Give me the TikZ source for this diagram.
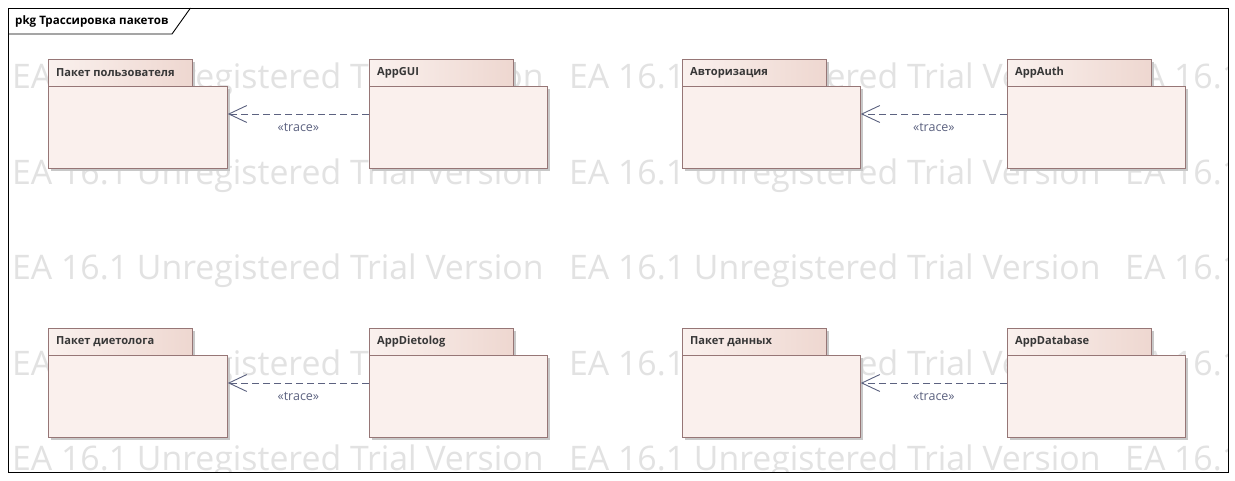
\documentclass[tikz,border=0pt]{standalone}
\usepackage{fontspec}
\setmainfont{Open Sans}
\newfontfamily\wmfont{Open Sans}
\usetikzlibrary{arrows.meta}
\definecolor{pkgline}{RGB}{150,118,118}
\definecolor{pkgbody}{RGB}{250,240,237}
\definecolor{tabL}{RGB}{250,241,238}
\definecolor{tabR}{RGB}{238,215,208}
\definecolor{shadowc}{RGB}{200,200,200}
\definecolor{wmc}{RGB}{226,226,226}
\definecolor{tracec}{RGB}{92,98,128}
\definecolor{labelc}{RGB}{55,55,55}
\tikzset{
  pkgtab/.style={draw=pkgline, left color=tabL, right color=tabR, anchor=north west, inner sep=0pt, line width=0.8pt, minimum height=27pt},
  pkgbodybox/.style={draw=pkgline, fill=pkgbody, anchor=north west, inner sep=0pt, line width=0.8pt, minimum height=82pt},
  pkglabel/.style={anchor=west, font=\bfseries\fontsize{11.1}{13}\selectfont, text=labelc, inner sep=0pt},
  tracearrow/.style={draw=tracec, dash pattern=on 7pt off 4pt, line width=0.9pt, -{Straight Barb[length=18pt,width=17pt,line width=0.9pt]}},
  tracelabel/.style={font=\fontsize{12.5}{14}\selectfont, text=tracec, inner sep=0pt},
  wmtext/.style={anchor=base west, font=\wmfont\fontsize{33.8}{40}\selectfont, text=wmc, inner sep=0pt},
  framebox/.style={draw=black, line width=0.9pt},
}
\newcommand\umlpkg[6]{% name, xl, xtab, xr, ytop, label
  \fill[shadowc] (#2+3,#5+3) rectangle (#3+2.5,#5+27);
  \fill[shadowc] (#2+3,#5+30) rectangle (#4+2.5,#5+111.5);
  \node[pkgtab, minimum width={(#3-#2)*1pt}] (#1tab) at (#2,#5) {};
  \node[pkgbodybox, minimum width={(#4-#2)*1pt}] (#1) at (#2,#5+27) {};
  \node[pkglabel] (#1lbl) at ([xshift=8pt]#1tab.west) {#6};
}
\begin{document}
\begin{tikzpicture}[x=1pt,y=-1pt]
\useasboundingbox (0,0) rectangle (1235,480);
\fill[white] (0,0) rectangle (1235,480);
% watermark
\begin{scope}
\clip (8,8) rectangle (1228,472);
\foreach \yy in {88,184,279,375,470} {
  \foreach \xx in {12,569,1125} {
    \node[wmtext] at (\xx,\yy) {EA 16.1 Unregistered Trial Version};
  }
}
\end{scope}
% frame
\node[framebox, anchor=north west, minimum width=1220pt, minimum height=464pt, inner sep=0pt] (frame) at (8,8) {};
\draw[framebox] (8,34) -- (172,34) -- (190.5,8);
\node[anchor=west, font=\bfseries\fontsize{11.6}{14}\selectfont, inner sep=0pt] (title) at (15,21) {pkg Трассировка пакетов};
% packages
\umlpkg{user}{48}{192}{227}{59}{Пакет пользователя}
\umlpkg{gui}{369}{513}{547}{59}{AppGUI}
\umlpkg{auth}{682}{826}{860}{59}{Авторизация}
\umlpkg{appauth}{1007}{1151}{1185}{59}{AppAuth}
\umlpkg{diet}{48}{192}{227}{328}{Пакет диетолога}
\umlpkg{appdiet}{369}{513}{547}{328}{AppDietolog}
\umlpkg{data}{682}{826}{860}{328}{Пакет данных}
\umlpkg{appdb}{1007}{1151}{1185}{328}{AppDatabase}
% trace dependencies
\draw[tracearrow] ([yshift=-28pt]gui.north west) -- ([yshift=-28pt]user.north east) node[tracelabel, pos=0.5, yshift=-13pt] {«trace»};
\draw[tracearrow] ([yshift=-28pt]appauth.north west) -- ([yshift=-28pt]auth.north east) node[tracelabel, pos=0.5, yshift=-13pt] {«trace»};
\draw[tracearrow] ([yshift=-28pt]appdiet.north west) -- ([yshift=-28pt]diet.north east) node[tracelabel, pos=0.5, yshift=-13pt] {«trace»};
\draw[tracearrow] ([yshift=-28pt]appdb.north west) -- ([yshift=-28pt]data.north east) node[tracelabel, pos=0.5, yshift=-13pt] {«trace»};
\end{tikzpicture}
\end{document}
